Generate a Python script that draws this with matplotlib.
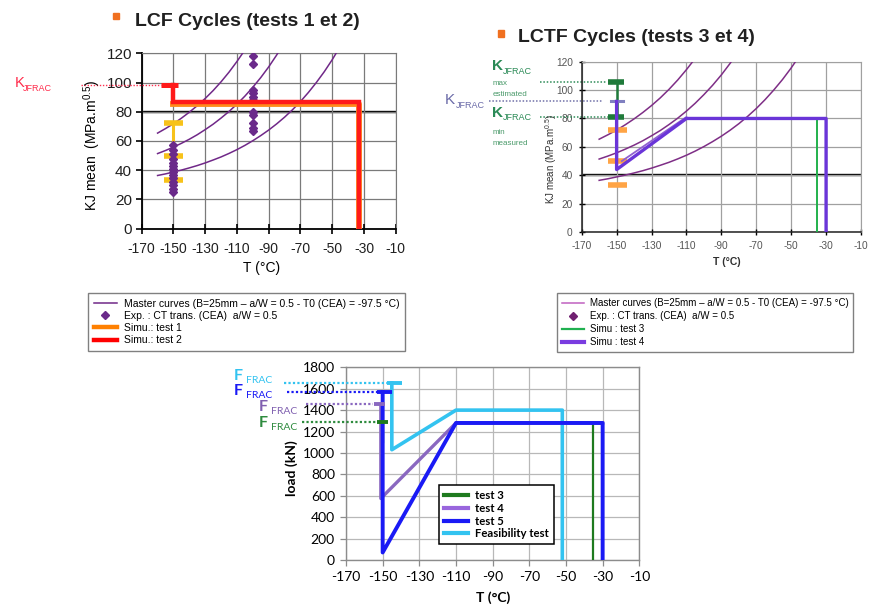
import matplotlib
matplotlib.use("Agg")
import matplotlib.pyplot as plt
from matplotlib.lines import Line2D
from matplotlib.patches import Rectangle
from matplotlib import font_manager

W, H = 869, 611

installed = {f.name for f in font_manager.fontManager.ttflist}
SANS = "Liberation Sans" if "Liberation Sans" in installed else "DejaVu Sans"
NARROW = "Liberation Sans Narrow" if "Liberation Sans Narrow" in installed else SANS
CAL = "Lato" if "Lato" in installed else SANS

plt.rcParams["font.family"] = [SANS, "DejaVu Sans"]
plt.rcParams["mathtext.default"] = "regular"
plt.rcParams["axes.unicode_minus"] = False

# ---------------------------------------------------------------- data
# Master curves (B=25mm, a/W=0.5, T0=-97.5 C): upper, median and lower bounds
t_upper = [-160, -155, -150, -145, -140, -135, -130, -125, -120, -115, -110, -105]
kj_upper = [65.4, 68.5, 71.8, 75.6, 79.7, 84.2, 89.1, 94.5, 100.5, 107.1, 114.4, 122.3]
t_median = [-160, -155, -150, -145, -140, -135, -130, -125, -120, -115, -110,
            -105, -100, -95, -90, -85, -80]
kj_median = [51.4, 53.5, 55.8, 58.4, 61.2, 64.3, 67.8, 71.5, 75.7, 80.2, 85.2,
             90.7, 96.8, 103.4, 110.7, 118.8, 127.6]
t_lower = [-160, -155, -150, -145, -140, -135, -130, -125, -120, -115, -110, -105,
           -100, -95, -90, -85, -80, -75, -70, -65, -60, -55, -50, -45]
kj_lower = [36.4, 37.5, 38.8, 40.1, 41.6, 43.2, 45.0, 47.0, 49.1, 51.5, 54.1, 57.0,
            60.2, 63.7, 67.5, 71.7, 76.3, 81.4, 87.0, 93.2, 100.0, 107.4, 115.6, 124.6]

# CT specimen results (CEA)
exp_t = [-150, -150, -150, -150, -150, -150, -150, -150, -150, -150, -150, -150, -150, -150,
         -100, -100, -100, -100, -100, -100, -100, -100, -100, -100, -100]
exp_kj = [57, 54, 51, 48, 45, 43, 41, 39, 37, 35, 32, 30, 27, 25,
          118, 113, 95, 93, 90, 88, 80, 78, 72, 69, 67]

# LCF tests 1 and 2
kj_bars_lcf = [72, 50, 33]
test1_t = [-150, -33, -33]
test1_kj = [85, 85, 0]
test2_t = [-150, -150, -33, -33]
test2_kj = [98, 86.5, 86.5, 0]
kjfrac_test2 = 98

# LCTF tests 3 and 4
kj_bars_lctf = [72, 50, 33]
kjfrac_max = 106
kjfrac_min = 81
kjfrac_test4 = 92
test3_t = [-35, -35]
test3_kj = [80, 0]
test4_t = [-150, -150, -110, -30, -30]
test4_kj = [92, 44, 80, 80, 0]
test4_ramp_t = [-147, -110]
test4_ramp_kj = [50, 81]

# Load histories
feas_t = [-145, -145, -110, -52, -52]
feas_f = [1655, 1030, 1400, 1400, 0]
ffrac_feas = 1655
load5_t = [-150, -150, -110, -30, -30]
load5_f = [1570, 70, 1280, 1280, 0]
ffrac_5 = 1570
load4_t = [-151, -151, -110, -30]
load4_f = [1455, 575, 1280, 1280]
ffrac_4 = 1455
load3_t = [-150, -150, None, -110, -35, -35]
load3_f = [1290, 1100, None, 1280, 1280, 0]
ffrac_3 = 1290

temp_ticks = list(range(-170, -9, 20))

# ---------------------------------------------------------------- helpers
fig = plt.figure(figsize=(W / 100, H / 100), dpi=100)


def box(l, t, r, b):
    return [l / W, 1 - b / H, (r - l) / W, (b - t) / H]


def ftext(x, y, s, **kw):
    kw.setdefault("ha", "left")
    kw.setdefault("va", "center")
    fig.text(x / W, 1 - y / H, s, **kw)


def bullet(x, y, size=6.5):
    fig.patches.append(Rectangle((x / W, 1 - (y + size) / H), size / W, size / H,
                                 transform=fig.transFigure, color="#F07020", zorder=5))


# ---------------------------------------------------------------- LCF chart
ax1 = fig.add_axes(box(141.7, 53.3, 395.7, 228.7))
ax1.set_xlim(-170, -10)
ax1.set_ylim(0, 120)
ax1.set_xticks(temp_ticks)
ax1.set_yticks(range(0, 121, 20))
ax1.grid(True, color="#7a7a7a", lw=0.9, zorder=0)
ax1.axhline(80, color="black", lw=1.7, zorder=1)
for s in ("left", "bottom"):
    ax1.spines[s].set_color("black")
    ax1.spines[s].set_linewidth(1.3)
for s in ("top", "right"):
    ax1.spines[s].set_color("#7a7a7a")
tick_fs1 = 11 if NARROW != SANS else 10
ax1.tick_params(axis="x", direction="inout", length=7, width=1.2, labelsize=tick_fs1, pad=6)
ax1.tick_params(axis="y", direction="out", length=4, width=1.2, labelsize=tick_fs1 + 1, pad=3)
for lab in ax1.get_xticklabels() + ax1.get_yticklabels():
    lab.set_family(NARROW)
    lab.set_color("#202020")

curve1 = "#702888"
for tt, kk in ((t_upper, kj_upper), (t_median, kj_median), (t_lower, kj_lower)):
    ax1.plot(tt, kk, color=curve1, lw=1.1, zorder=3)

ax1.plot([-150, -150], [kj_bars_lcf[-1], kj_bars_lcf[0]], color="#F7C21A", lw=2.2, zorder=3)
for k in kj_bars_lcf:
    ax1.plot([-156, -144], [k, k], color="#F7C21A", lw=4, solid_capstyle="butt", zorder=3)
ax1.plot(exp_t, exp_kj, ls="none", marker="D", markersize=3.6, color="#6A2A8A", zorder=4)

ax1.plot(test1_t, test1_kj, color="#FF8C1A", lw=4.2, zorder=5)
ax1.plot(test2_t, test2_kj, color="#FF1A1A", lw=3.2, zorder=6, solid_joinstyle="miter")
ax1.plot([-158, -147], [kjfrac_test2, kjfrac_test2], color="#FF1A1A", lw=3.6,
         solid_capstyle="butt", zorder=6)
ax1.plot([-208, -158], [kjfrac_test2, kjfrac_test2], color="#FF3050", lw=1.0, ls=(0, (1, 1.2)),
         clip_on=False, zorder=6)

ftext(262, 268, "T (°C)", ha="center", fontsize=10)
ftext(92, 146, "KJ mean  (MPa.m$^{0.5}$)", ha="center", rotation=90, fontsize=10)
ftext(14.5, 83, "K", color="#FF2A4A", fontsize=10.5)
ftext(23, 88.5, "JFRAC", color="#FF2A4A", fontsize=6.5)
bullet(112.5, 12.5)
ftext(135, 22, "LCF Cycles (tests 1 et 2)", fontsize=14, weight="bold", color="#202020")

leg1 = fig.legend(
    [Line2D([], [], color=curve1, lw=1.1),
     Line2D([], [], color="#6A2A8A", marker="D", ls="none", markersize=4),
     Line2D([], [], color="#FF8000", lw=3.2),
     Line2D([], [], color="#FF0000", lw=3.2)],
    ["Master curves (B=25mm – a/W = 0.5 - T0 (CEA) = -97.5 °C)",
     "Exp. : CT trans. (CEA)  a/W = 0.5",
     "Simu.: test 1",
     "Simu.: test 2"],
    loc="upper left", bbox_to_anchor=(88.3 / W, 1 - 293.3 / H), bbox_transform=fig.transFigure,
    fontsize=7.5, frameon=True, fancybox=False, edgecolor="#808080", framealpha=1,
    handlelength=2.3, handletextpad=0.6, labelspacing=0.22, borderpad=0.5, borderaxespad=0)
leg1.get_frame().set_linewidth(1.0)

# ---------------------------------------------------------------- LCTF chart
ax2 = fig.add_axes(box(581.7, 61.7, 861, 232))
ax2.set_xlim(-170, -10)
ax2.set_ylim(0, 120)
ax2.set_xticks(temp_ticks)
ax2.set_yticks(range(0, 121, 20))
ax2.grid(True, color="#a0a0a0", lw=0.9, zorder=0)
ax2.axhline(40, color="black", lw=1.7, zorder=1)
for s in ("left", "bottom"):
    ax2.spines[s].set_color("#202020")
    ax2.spines[s].set_linewidth(1.1)
for s in ("top", "right"):
    ax2.spines[s].set_color("#a0a0a0")
ax2.tick_params(axis="both", direction="inout", length=5, width=1.0, labelsize=7.3,
                labelcolor="#555555", pad=4)
for lab in ax2.get_xticklabels() + ax2.get_yticklabels():
    lab.set_family(NARROW)

curve2 = "#7E2E86"
for tt, kk in ((t_upper, kj_upper), (t_median, kj_median), (t_lower, kj_lower)):
    ax2.plot(tt, kk, color=curve2, lw=1.1, zorder=3)

for k in kj_bars_lctf:
    ax2.plot([-155, -144], [k, k], color="#FFA445", lw=4, solid_capstyle="butt", zorder=4)
green_dark = "#1F7A3A"
ax2.plot([-150, -150], [kjfrac_max, kjfrac_min], color=green_dark, lw=1.8, zorder=4)
for k in (kjfrac_max, kjfrac_min):
    ax2.plot([-155, -146], [k, k], color=green_dark, lw=4, solid_capstyle="butt", zorder=5)
ax2.plot([-153, -146.5], [kjfrac_test4, kjfrac_test4], color="#8080C0", lw=2.2, zorder=5)

ax2.plot(test3_t, test3_kj, color="#22B14C", lw=1.4, zorder=5)
ax2.plot(test4_ramp_t, test4_ramp_kj, color="#9060D0", lw=1.3, zorder=5)
ax2.plot(test4_t, test4_kj, color="#6A35D8", lw=2.4, zorder=6)

ax2.plot([-194, -156], [kjfrac_max, kjfrac_max], color="#2E8B57", lw=1.1, ls=(0, (1, 1.2)),
         clip_on=False)
ax2.plot([-223, -158], [kjfrac_test4, kjfrac_test4], color="#7070A8", lw=1.1, ls=(0, (1, 1.2)),
         clip_on=False)
ax2.plot([-194, -150], [kjfrac_min, kjfrac_min], color="#2E8B57", lw=1.1, ls=(0, (1, 1.2)),
         clip_on=False)

green_txt = "#2A8A56"
ftext(492, 66, "K", color=green_txt, fontsize=11, weight="bold")
ftext(503, 71, "JFRAC", color=green_txt, fontsize=6.5)
ftext(493, 83.5, "max", color="#4A9A6A", fontsize=5.8)
ftext(493, 95, "estimated", color="#4A9A6A", fontsize=5.8)
ftext(492, 113, "K", color=green_txt, fontsize=11, weight="bold")
ftext(503, 118, "JFRAC", color=green_txt, fontsize=6.5)
ftext(493, 132, "min", color="#4A9A6A", fontsize=5.8)
ftext(493, 143.5, "measured", color="#4A9A6A", fontsize=5.8)
ftext(445, 100, "K", color="#6A6AA8", fontsize=11)
ftext(456, 105, "JFRAC", color="#6A6AA8", fontsize=6.5)

ftext(727, 262, "T (°C)", ha="center", fontsize=7.5, weight="bold", color="#303030")
ftext(551, 159, "KJ mean (MPa.m$^{0.5}$)", ha="center", rotation=90, fontsize=7,
      color="#303030")
bullet(497.5, 30)
ftext(518, 37, "LCTF Cycles (tests 3 et 4)", fontsize=14, weight="bold", color="#202020")

leg2 = fig.legend(
    [Line2D([], [], color="#C060C0", lw=1.1),
     Line2D([], [], color="#702070", marker="D", ls="none", markersize=4),
     Line2D([], [], color="#20B050", lw=1.6),
     Line2D([], [], color="#7A3CE0", lw=3)],
    ["Master curves (B=25mm – a/W = 0.5 - T0 (CEA) = -97.5 °C)",
     "Exp. : CT trans. (CEA)  a/W = 0.5",
     "Simu : test 3",
     "Simu : test 4"],
    loc="upper left", bbox_to_anchor=(556.7 / W, 1 - 293.3 / H), bbox_transform=fig.transFigure,
    fontsize=7, frameon=True, fancybox=False, edgecolor="#808080", framealpha=1,
    handlelength=2.3, handletextpad=0.6, labelspacing=0.3, borderpad=0.5, borderaxespad=0)
leg2.get_frame().set_linewidth(1.0)

# ---------------------------------------------------------------- load chart
ax3 = fig.add_axes(box(346, 367.3, 639.3, 560))
ax3.set_xlim(-170, -10)
ax3.set_ylim(0, 1800)
ax3.set_xticks(temp_ticks)
ax3.set_yticks(range(0, 1801, 200))
ax3.grid(True, color="#b8b8b8", lw=0.9, zorder=0)
for s in ax3.spines.values():
    s.set_color("#8c8c8c")
    s.set_linewidth(1.0)
ax3.tick_params(axis="both", direction="out", length=4, width=0.9, color="#8c8c8c",
                labelsize=10, pad=4)
for lab in ax3.get_xticklabels() + ax3.get_yticklabels():
    lab.set_family(CAL)

c3, c4, c5, cf = "#1E7A1E", "#8A68C0", "#1A1AF5", "#33C3F0"
ax3.plot(load3_t, load3_f, color=c3, lw=1.6, zorder=3)
ax3.plot(load4_t, load4_f, color=c4, lw=2.4, zorder=4)
ax3.plot(feas_t, feas_f, color=cf, lw=2.6, zorder=5)
ax3.plot(load5_t, load5_f, color=c5, lw=2.8, zorder=6)

caps = [(ffrac_3, -153, -147, c3), (ffrac_4, -154.5, -148.5, c4),
        (ffrac_5, -153, -145, c5), (ffrac_feas, -147.5, -139.5, cf)]
for f, a, b, c in caps:
    ax3.plot([a, b], [f, f], color=c, lw=2.8, solid_capstyle="butt", zorder=7)
dots = [(ffrac_feas, -204, -147.5, cf), (ffrac_5, -202, -153, c5),
        (ffrac_4, -192, -155, "#8A68C0"), (ffrac_3, -194, -153, "#2E8B3E")]
for f, a, b, c in dots:
    ax3.plot([a, b], [f, f], color=c, lw=1.6, ls=(0, (1, 1)), clip_on=False, zorder=7)

for y, x, c in ((376, 234, cf), (391, 234, c5), (407, 259, "#8060B0"), (423, 259, "#2E8B3E")):
    ftext(x, y, "F", color=c, fontsize=11.5, family=CAL, weight="bold")
    ftext(x + 12, y + 4.5, "FRAC", color=c, fontsize=7.5, family=CAL)

ftext(292, 468, "load (kN)", ha="center", rotation=90, fontsize=10, weight="bold", family=CAL)
ftext(493, 598, "T (°C)", ha="center", fontsize=10, weight="bold", family=CAL)

leg3 = ax3.legend(
    [Line2D([], [], color=c3, lw=3), Line2D([], [], color="#9966DD", lw=3),
     Line2D([], [], color=c5, lw=3), Line2D([], [], color=cf, lw=3)],
    ["test 3", "test 4", "test 5", "Feasibility test"],
    loc="upper left", bbox_to_anchor=(439.3 / W, 1 - 485 / H), bbox_transform=fig.transFigure,
    prop={"family": CAL, "weight": "bold", "size": 8.2}, frameon=True, fancybox=False,
    edgecolor="black", framealpha=1, handlelength=2.1, handletextpad=0.6,
    labelspacing=0.15, borderpad=0.45, borderaxespad=0)
leg3.get_frame().set_linewidth(1.1)
leg3.set_zorder(10)

fig.savefig("out.png", dpi=100)
